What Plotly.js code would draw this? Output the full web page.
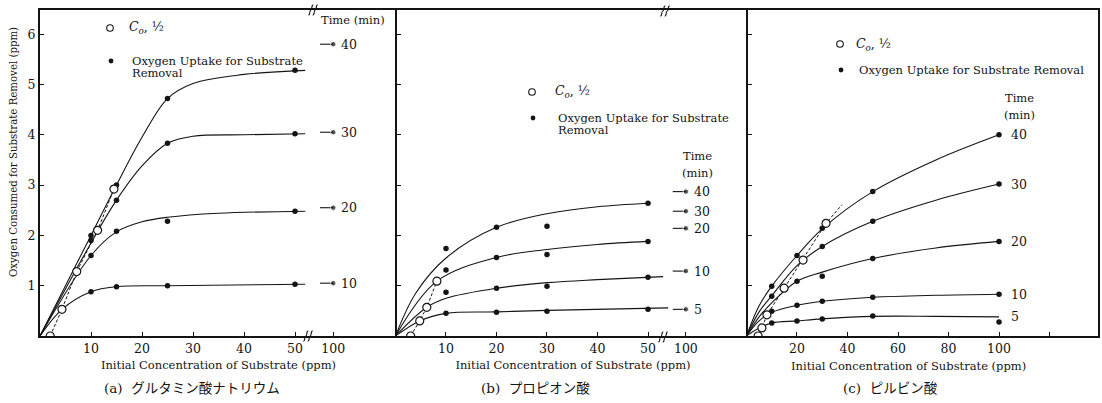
<!DOCTYPE html>
<html>
<head>
<meta charset="utf-8">
<script src="https://cdn.plot.ly/plotly-3.0.1.min.js"></script>
<style>
  html, body { margin: 0; padding: 0; background: #fff; }
  #chart { width: 1102px; height: 403px; }
</style>
</head>
<body>
<div id="chart"></div>
<script>
// ---------- (a) sodium glutamate ----------
const aConc   = [10, 15, 25, 50];
const aPts40  = [2.0, 3.0, 4.72, 5.28];
const aPts30  = [1.9, 2.7, 3.83, 4.02];
const aPts20  = [1.6, 2.08, 2.28, 2.48];
const aPts10  = [0.88, 0.98, 1.0, 1.03];
const aTimes  = ['40', '30', '20', '10'];
const aAt100  = [5.8, 4.05, 2.55, 1.05];
// hand-faired curves
const aFitX40 = [0, 10, 15, 20, 25, 30, 40, 52];
const aFit40  = [0, 2.0, 3.0, 3.95, 4.72, 5.02, 5.2, 5.28];
const aFitX30 = [0, 10, 15, 20, 25, 30, 40, 52];
const aFit30  = [0, 1.85, 2.7, 3.38, 3.83, 3.97, 4.0, 4.02];
const aFitX20 = [0, 10, 15, 20, 25, 35, 52];
const aFit20  = [0, 1.6, 2.07, 2.27, 2.36, 2.44, 2.48];
const aFitX10 = [0, 4.3, 10, 15, 25, 52];
const aFit10  = [0, 0.53, 0.88, 0.98, 1.0, 1.03];
// C0/2 points
const aHalfX  = [2, 4.3, 7.2, 11.3, 14.5];
const aHalfY  = [0, 0.53, 1.28, 2.1, 2.92];

// ---------- (b) propionic acid ----------
const bConc   = [10, 20, 30, 50];
const bPts40  = [1.74, 2.16, 2.18, 2.64];
const bPts20  = [1.31, 1.56, 1.62, 1.88];
const bPts10  = [0.87, 0.95, 0.99, 1.17];
const bPts5   = [0.45, 0.47, 0.49, 0.53];
const bTimes  = ['40', '30', '20', '10', '5'];
const bAt100  = [2.87, 2.48, 2.14, 1.29, 0.53];
const bFitX40 = [0, 4, 10, 20, 30, 40, 50];
const bFit40  = [0, 0.85, 1.55, 2.16, 2.43, 2.57, 2.64];
const bFitX20 = [0, 8.2, 20, 30, 40, 50];
const bFit20  = [0, 1.09, 1.56, 1.72, 1.82, 1.88];
const bFitX10 = [0, 6.2, 10, 20, 30, 40, 53];
const bFit10  = [0, 0.57, 0.75, 0.95, 1.06, 1.12, 1.18];
const bFitX5  = [0, 4.8, 10, 20, 30, 54];
const bFit5   = [0, 0.3, 0.45, 0.48, 0.51, 0.56];
const bHalfX  = [3, 4.8, 6.2, 8.2];
const bHalfY  = [0, 0.3, 0.57, 1.09];

// ---------- (c) pyruvic acid ----------
const cConc   = [10, 20, 30, 50, 100];
const cPts40  = [0.99, 1.6, 2.14, 2.87, 4.0];
const cPts30  = [0.79, null, 1.78, 2.28, 3.02];
const cPts20  = [null, 1.09, 1.19, 1.54, 1.88];
const cPts10  = [0.49, 0.61, 0.69, 0.77, 0.83];
const cPts5   = [0.26, 0.3, 0.34, 0.4, 0.28];
const cTimes  = ['40', '30', '20', '10', '5'];
const cLabelY = [4.0, 3.02, 1.88, 0.83, 0.38];
const cFitX   = [0, 5, 10, 20, 30, 50, 75, 100];
const cFit40  = [0, 0.6, 0.99, 1.6, 2.13, 2.87, 3.5, 4.0];
const cFit30  = [0, 0.48, 0.8, 1.4, 1.78, 2.28, 2.7, 3.02];
const cFit20  = [0, 0.38, 0.66, 1.09, 1.27, 1.54, 1.75, 1.88];
const cFit10  = [0, 0.3, 0.47, 0.61, 0.69, 0.77, 0.81, 0.83];
const cFit5   = [0, 0.16, 0.26, 0.3, 0.34, 0.39, 0.39, 0.38];
const cHalfX  = [4.6, 6.1, 8.1, 14.9, 22.4, 31.5, 37.8];
const cHalfY  = [0, 0.16, 0.42, 0.95, 1.51, 2.24, 2.61];

// ---------- axis text ----------
const abTickVals = [10, 20, 30, 40, 50, 100];
const cTickVals  = [20, 40, 60, 80, 100];
const cMinorVals = [120];
const yTickVals  = [1, 2, 3, 4, 5, 6];
const xTitle = 'Initial Concentration of Substrate (ppm)';
const yTitle = 'Oxygen Consumed for Substrate Removel (ppm)';
const captions = ['(a)  グルタミン酸ナトリウム', '(b)  プロピオン酸', '(c)  ピルビン酸'];

// ---------- drawing ----------
const W = 1102, H = 403;
const px = x => x / W;
const py = y => 1 - y / H;
const INK = '#141414';
const SERIF = 'DejaVu Serif, Liberation Serif, serif';
const JP = 'DejaVu Serif, Noto Sans CJK JP, sans-serif';

// panels (a) and (b) squeeze 100 ppm in right after the axis break
const BREAK_AT = 57.5;
const broken = c => (c >= 100 ? BREAK_AT : c);
const plain = c => c;

const traces = [];
function curve(xs, ys, ax, map) {
  traces.push({ x: xs.map(map), y: ys, xaxis: 'x' + ax, yaxis: 'y' + ax, mode: 'lines',
    line: { color: INK, width: 1.1, shape: 'spline', smoothing: 1 }, hoverinfo: 'skip' });
}
function guide(xs, ys, ax) {
  traces.push({ x: xs, y: ys, xaxis: 'x' + ax, yaxis: 'y' + ax, mode: 'lines',
    line: { color: INK, width: 1, dash: '3px,2px' }, hoverinfo: 'skip' });
}
function dots(xs, ys, ax, map) {
  traces.push({ x: xs.map(map), y: ys, xaxis: 'x' + ax, yaxis: 'y' + ax, mode: 'markers',
    marker: { color: INK, size: 5.5 }, hoverinfo: 'skip' });
}
function halfDots(xs, ys, ax) {
  traces.push({ x: xs, y: ys, xaxis: 'x' + ax, yaxis: 'y' + ax, mode: 'markers',
    marker: { color: '#fff', size: 8, line: { color: INK, width: 1.2 } }, hoverinfo: 'skip' });
}
// short lead line ending in a dot at 100 ppm
function lead(v, ax) {
  traces.push({ x: [BREAK_AT - 2.6, BREAK_AT], y: [v, v], xaxis: 'x' + ax, yaxis: 'y' + ax,
    mode: 'lines+markers', line: { color: INK, width: 1.1 },
    marker: { color: INK, size: [0, 5.5] }, hoverinfo: 'skip' });
}

// (a) — the first axis pair carries no number suffix
const A = '', B = '2', C = '3';
curve(aFitX40, aFit40, A, broken); curve(aFitX30, aFit30, A, broken);
curve(aFitX20, aFit20, A, broken); curve(aFitX10, aFit10, A, broken);
guide(aHalfX, aHalfY, A);
[aPts40, aPts30, aPts20, aPts10].forEach(p => dots(aConc, p, A, broken));
aAt100.forEach(v => lead(v, A));
halfDots(aHalfX, aHalfY, A);

// (b)
curve(bFitX40, bFit40, B, broken); curve(bFitX20, bFit20, B, broken);
curve(bFitX10, bFit10, B, broken); curve(bFitX5, bFit5, B, broken);
guide(bHalfX, bHalfY, B);
[bPts40, bPts20, bPts10, bPts5].forEach(p => dots(bConc, p, B, broken));
bAt100.forEach(v => lead(v, B));
halfDots(bHalfX, bHalfY, B);

// (c)
[cFit40, cFit30, cFit20, cFit10, cFit5].forEach(f => curve(cFitX, f, C, plain));
guide(cHalfX, cHalfY, C);
[cPts40, cPts30, cPts20, cPts10, cPts5].forEach(p => dots(cConc, p, C, plain));
halfDots(cHalfX.slice(0, -1), cHalfY.slice(0, -1), C);

// ---------- axes ----------
const tickFont = { family: SERIF, size: 12.5, color: INK };
function xAxis(domain, range, vals, text, anchor, withTitle) {
  const ax = { domain, range, anchor, showline: true, mirror: true, linecolor: INK, linewidth: 1.6,
    ticks: 'inside', ticklen: 4, tickwidth: 1, tickcolor: INK, tickvals: vals, ticktext: text,
    tickfont: tickFont, showgrid: false, zeroline: false, fixedrange: true };
  if (withTitle) ax.title = { text: xTitle, standoff: 6, font: { family: SERIF, size: 11.5, color: INK } };
  return ax;
}
function yAxis(anchor, labels, mirror) {
  return { domain: [py(336), py(10)], range: [0, 6.48], anchor, showline: true, mirror,
    linecolor: INK, linewidth: 2.1, ticks: 'inside', ticklen: 4, tickwidth: 1, tickcolor: INK,
    tickvals: yTickVals, showticklabels: labels, tickfont: tickFont,
    showgrid: false, zeroline: false, fixedrange: true };
}

// ---------- annotations ----------
const ann = [];
function note(text, x, y, o = {}) {
  ann.push(Object.assign({ text, x: px(x), y: py(y), xref: 'paper', yref: 'paper',
    showarrow: false, xanchor: 'center', yanchor: 'middle',
    font: { family: SERIF, size: 11.5, color: INK } }, o));
}
function timeLabel(t, v, ax, xpos, shift) {
  ann.push({ text: t, x: xpos, y: v, xref: 'x' + ax, yref: 'y' + ax, showarrow: false,
    xanchor: 'left', yanchor: 'middle', xshift: shift,
    font: { family: SERIF, size: 12.5, color: INK } });
}

// shared y title (left of panel a) and the x title of panel (c), set slightly off-centre
note(yTitle, 13, 152, { textangle: -90, font: { family: SERIF, size: 10.2, color: INK } });
note(xTitle, 908, 366, { font: { family: SERIF, size: 11.5, color: INK } });
[[192, 388], [535, 388], [891, 388]].forEach(([x, y], i) =>
  note(captions[i], x, y, { font: { family: JP, size: 13.5, color: INK } }));

// legends
const shapes = [];
function disc(x, y, r, filled) {
  shapes.push({ type: 'circle', xref: 'paper', yref: 'paper',
    x0: px(x - r), x1: px(x + r), y0: py(y + r), y1: py(y - r),
    line: { color: INK, width: filled ? 0 : 1.1 }, fillcolor: filled ? INK : '#fff' });
}
const c0Label = '<i>C<sub>o</sub></i>, ½';
const uptake = 'Oxygen Uptake for Substrate';
function legend(cx, yOpen, yDot, tx, twoLine) {
  disc(cx, yOpen, 3.3, false);
  disc(cx + 1, yDot, 2.4, true);
  note(c0Label, tx - 3, yOpen, { xanchor: 'left', font: { family: SERIF, size: 12.5, color: INK } });
  if (twoLine) {
    note(uptake, tx, yDot, { xanchor: 'left' });
    note('Removal', tx, yDot + 12, { xanchor: 'left' });
  } else {
    note(uptake + ' Removal', tx, yDot, { xanchor: 'left' });
  }
}
legend(110, 28, 61, 130, true);
legend(532, 92, 118, 556, true);
legend(840, 44, 70, 857, false);

note('Time (min)', 353, 20);
note('Time', 697, 156); note('(min)', 697, 173);
note('Time', 1019, 98); note('(min)', 1019, 115);

aTimes.forEach((t, i) => timeLabel(t, aAt100[i], A, BREAK_AT, 6));
bTimes.forEach((t, i) => timeLabel(t, bAt100[i], B, BREAK_AT, 6));
cTimes.forEach((t, i) => timeLabel(t, cLabelY[i], C, 100, 10));

// axis-break marks on the frame: a pair of small S-strokes
function breakMark(x, y) {
  [-2.2, 2.2].forEach(dx => {
    const x0 = x + dx;
    shapes.push({ type: 'path', xref: 'paper', yref: 'paper', line: { color: INK, width: 1.1 },
      path: `M ${px(x0 - 2.5)},${py(y + 5)} C ${px(x0 - 0.5)},${py(y + 5.5)} ${px(x0 - 1.5)},${py(y)} ${px(x0)},${py(y)}` +
            ` C ${px(x0 + 1.5)},${py(y)} ${px(x0 + 0.5)},${py(y - 5.5)} ${px(x0 + 2.5)},${py(y - 5)}` });
  });
}
[[313, 10], [308, 336], [665, 11], [663, 337]].forEach(([x, y]) => breakMark(x, y));

const layout = {
  width: W, height: H, margin: { l: 0, r: 0, t: 0, b: 0 },
  paper_bgcolor: '#fff', plot_bgcolor: 'rgba(0,0,0,0)', showlegend: false,
  xaxis:  xAxis([px(40), px(397)], [0, 70], abTickVals.map(broken), abTickVals.map(String), 'y', true),
  xaxis2: xAxis([px(397), px(749)], [0.3, 70], abTickVals.map(broken), abTickVals.map(String), 'y2', true),
  xaxis3: Object.assign(xAxis([px(748), px(1098)], [0.6, 139.2], cTickVals, cTickVals.map(String), 'y3', false),
    { minor: { tickvals: cMinorVals, ticks: 'inside', ticklen: 4, tickwidth: 1, tickcolor: INK, showgrid: false } }),
  yaxis:  yAxis('x', true, false),
  yaxis2: yAxis('x2', false, false),
  yaxis3: yAxis('x3', false, true),
  annotations: ann, shapes
};

Plotly.newPlot('chart', traces, layout, { staticPlot: true, displayModeBar: false });
</script>
</body>
</html>
